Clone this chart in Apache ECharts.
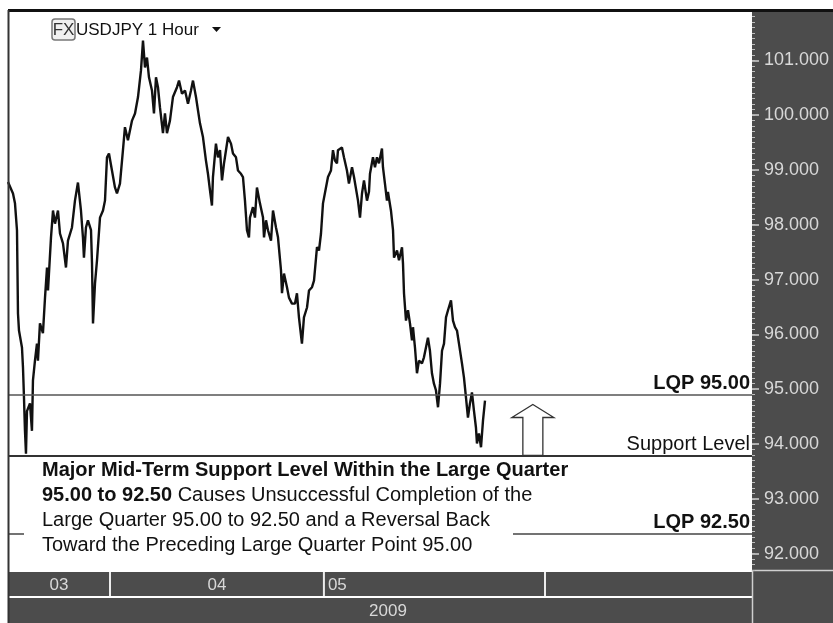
<!DOCTYPE html>
<html><head><meta charset="utf-8">
<script src="https://cdn.jsdelivr.net/npm/echarts@6/dist/echarts.min.js"></script>
<style>html,body{margin:0;padding:0;background:#fff}#c{width:833px;height:623px}</style>
</head><body><div id="c"></div>
<script>
// x: days since 1 Mar 2009 (1-hour bars)
const days = [16.70,17.40,17.68,17.96,18.10,18.24,18.66,18.80,18.94,19.08,19.22,19.36,19.78,20.06,20.20,20.48,20.76,20.90,21.18,21.60,21.89,22.17,22.31,22.73,23.01,23.29,23.71,23.99,24.41,24.83,25.11,25.67,26.09,26.51,26.93,27.21,27.35,27.63,27.91,28.34,28.48,28.62,28.90,29.18,29.60,30.02,30.30,30.58,30.86,31.28,31.70,31.98,32.40,
32.82,33.10,33.52,34.09,34.51,34.93,35.35,35.63,35.91,36.19,36.47,36.89,37.17,37.45,37.73,38.01,38.43,38.71,38.99,39.41,39.83,40.40,40.68,41.10,41.52,41.94,42.36,42.64,43.06,43.34,43.62,44.04,44.46,44.74,45.02,45.30,45.44,45.86,46.14,46.43,46.71,46.99,47.27,47.55,47.97,48.25,48.67,48.95,49.37,49.65,49.93,50.21,50.49,
50.63,51.05,51.33,51.61,52.03,52.46,52.60,52.88,53.16,53.58,53.86,54.28,54.56,54.98,55.12,55.40,55.82,56.10,56.52,56.94,57.22,57.50,57.92,58.20,58.63,58.91,59.33,59.61,60.03,60.31,60.59,60.87,61.29,61.57,61.99,62.27,62.55,62.83,62.97,63.53,63.81,64.23,64.51,64.94,65.22,65.50,65.78,66.06,66.34,66.62,67.04,67.32,
67.46,67.88,68.16,68.44,68.72,69.14,69.28,69.56,69.84,69.98,70.40,70.69,70.83,71.25,71.53,71.95,72.09,72.23,72.51,72.79,73.07,73.35,73.49,73.77,74.05,74.33,74.75,75.03,75.31,75.59,75.87,76.15,76.43,76.71,77.00,77.28,77.56,77.84,78.12,78.40,78.82,79.10,79.38,79.66,79.94,80.36,80.64,80.92,81.20,81.48,81.76,82.04,82.32,82.46,82.74,83.03,83.31,83.59];
const prices = [98.78,98.57,98.39,97.9,96.38,96.07,95.76,95.4,94.85,94.24,93.82,94.6,94.74,94.24,95.16,95.52,95.83,95.52,96.2,96.02,96.67,97.22,96.8,97.77,98.26,98.02,98.26,97.84,97.66,97.22,97.71,97.95,98.44,98.77,98.26,97.77,97.4,97.95,98.08,97.9,97.29,96.2,96.93,97.35,98.13,98.26,98.44,99.23,99.3,98.99,98.68,98.57,98.75,
99.36,99.78,99.54,99.9,100.03,100.33,100.82,101.36,100.87,101.05,100.69,100.45,100.03,100.69,100.51,100.14,99.67,100.03,99.67,99.9,100.33,100.51,100.63,100.39,100.45,100.21,100.45,100.63,100.33,100.09,99.85,99.6,99.17,98.93,98.63,98.35,98.87,99.48,99.23,99.36,98.81,99.12,99.36,99.6,99.48,99.3,99.23,98.99,98.93,98.87,98.44,97.9,97.77,
98.13,98.32,98.13,98.68,98.39,98.13,97.77,98.08,97.9,97.71,98.26,97.95,97.77,97.17,96.75,97.11,96.86,96.67,96.56,96.56,96.75,96.31,95.83,96.31,96.49,96.8,96.86,96.98,97.59,97.53,97.84,98.39,98.68,98.87,98.99,99.36,99.17,99.12,99.36,99.41,99.23,98.99,98.75,99.05,98.87,98.9,98.44,98.13,98.57,98.81,98.44,98.6,
98.93,99.23,99.05,99.23,99.12,99.39,99.05,98.75,98.44,98.6,98.26,97.9,97.4,97.53,97.35,97.59,97.29,96.75,96.25,96.44,96.2,95.89,96.13,95.76,95.29,95.52,95.47,95.58,95.76,95.94,95.7,95.29,95.1,94.98,94.67,95.1,95.7,95.83,96.31,96.44,96.62,96.25,96.13,96.07,95.83,95.47,95.21,94.85,94.48,94.74,94.94,94.61,94.3,94.01,94.19,93.94,94.43,94.79];

const yTicks = [92,93,94,95,96,97,98,99,100,101];
const levels = [94.9, 93.79, 92.37];
const levelLabels = ['LQP 95.00', 'Support Level', 'LQP 92.50'];
const monthStarts = [31, 61, 92];          // 1 Apr, 1 May, 1 Jun
const monthLabels = ['03', '04', '05', ''];
const yearLabel = '2009';
const xMin = 16.7, xMax = 121.03;
const yMin = 91.7, yMax = 101.9;
const arrowDay = 90.3, arrowTop = 94.72;
const noteBold1 = 'Major Mid-Term Support Level Within the Large Quarter';
const noteBold2 = '95.00 to 92.50';
const noteRest2 = ' Causes Unsuccessful Completion of the';
const noteLine3 = 'Large Quarter 95.00 to 92.50 and a Reversal Back';
const noteLine4 = 'Toward the Preceding Large Quarter Point 95.00';

const FONT = "'Liberation Sans', Arial, sans-serif";
const PANEL = '#4c4c4c';
const chart = echarts.init(document.getElementById('c'));

const levelStyles = [
  {color: '#555', width: 1.5, bold: true},
  {color: '#333', width: 2, bold: false},
  {color: '#444', width: 1.5, bold: true}
];

chart.setOption({
  backgroundColor: '#fff',
  animation: false,
  grid: {left: 8, right: 81, top: 11, bottom: 53},
  xAxis: {type: 'value', min: xMin, max: xMax, show: false},
  yAxis: [
    {type: 'value', position: 'right', min: yMin, max: yMax,
     axisLine: {show: false}, splitLine: {show: false},
     axisTick: {show: true, customValues: yTicks, length: 7, lineStyle: {color: '#d0d0d0', width: 1.5}},
     axisLabel: {customValues: yTicks, formatter: v => v.toFixed(3), color: '#d8d8d8', fontSize: 18, fontFamily: FONT, margin: 12}},
    {type: 'value', position: 'right', min: yMin, max: yMax, interval: 0.1,
     axisLine: {show: false}, splitLine: {show: false}, axisLabel: {show: false},
     axisTick: {show: true, length: 3, lineStyle: {color: '#bdbdbd', width: 1}}}
  ],
  series: [{
    type: 'line', data: days.map((d, i) => [d, prices[i]]),
    showSymbol: false, z: 3,
    lineStyle: {color: '#111', width: 2.4},
    markLine: {
      symbol: 'none', silent: true, animation: false,
      data: levels.map((v, i) => ({
        yAxis: v,
        lineStyle: {type: 'solid', color: levelStyles[i].color, width: levelStyles[i].width},
        label: {show: true, position: 'insideEndTop', formatter: levelLabels[i], distance: [2, 1],
                fontSize: 20, fontFamily: FONT, color: '#111',
                fontWeight: levelStyles[i].bold ? 'bold' : 'normal'}
      }))
    }
  }]
});

const P = (d, v) => chart.convertToPixel({xAxisIndex: 0, yAxisIndex: 0}, [d, v]);
const gx0 = P(xMin, yMin)[0], gx1 = P(xMax, yMin)[0], gyB = P(xMin, yMin)[1], gyT = P(xMin, yMax)[1];
const W = 833, H = 623;
const els = [];
// right scale panel
els.push({type: 'rect', z: -1, shape: {x: gx1, y: gyT - 1, width: W - gx1, height: H - gyT + 1}, style: {fill: PANEL}});
// time bars
const rowTop = gyB + 2, rowH = 24, yearTop = rowTop + rowH + 2;
els.push({type: 'rect', shape: {x: gx0, y: rowTop, width: gx1 - gx0, height: rowH}, style: {fill: PANEL}});
els.push({type: 'rect', shape: {x: gx0, y: yearTop, width: gx1 - gx0, height: H - yearTop}, style: {fill: PANEL}});
els.push({type: 'line', shape: {x1: gx1, y1: gyB + 0.5, x2: W, y2: gyB + 0.5}, style: {stroke: '#cfcfcf', lineWidth: 1.5}});
els.push({type: 'line', shape: {x1: gx1 + 0.5, y1: gyB, x2: gx1 + 0.5, y2: H}, style: {stroke: '#cfcfcf', lineWidth: 1.5}});
const bounds = [xMin].concat(monthStarts, [xMax]);
monthStarts.forEach(ms => {
  const x = P(ms, yMin)[0];
  els.push({type: 'line', shape: {x1: x, y1: rowTop, x2: x, y2: rowTop + rowH}, style: {stroke: '#ececec', lineWidth: 2}});
});
monthLabels.forEach((lab, i) => {
  if (!lab) return;
  const a = P(bounds[i], yMin)[0], b = P(bounds[i + 1], yMin)[0];
  const left = i === 2;
  els.push({type: 'text', style: {text: lab, x: left ? a + 4 : (a + b) / 2, y: rowTop + rowH / 2 + 1,
    align: left ? 'left' : 'center', verticalAlign: 'middle', fill: '#d8d8d8', font: '17px ' + FONT}});
});
els.push({type: 'text', style: {text: yearLabel, x: (gx0 + gx1) / 2 + 8, y: yearTop + (H - yearTop) / 2 + 1,
  align: 'center', verticalAlign: 'middle', fill: '#d8d8d8', font: '17px ' + FONT}});
// frame
els.push({type: 'line', z: 5, shape: {x1: gx0, y1: 10.5, x2: W, y2: 10.5}, style: {stroke: '#111', lineWidth: 3}});
els.push({type: 'line', z: 5, shape: {x1: gx0 + 0.5, y1: 10, x2: gx0 + 0.5, y2: H}, style: {stroke: '#333', lineWidth: 2}});
// title
els.push({type: 'rect', shape: {x: 52, y: 19, width: 23, height: 21, r: 3}, style: {fill: '#f0f0f0', stroke: '#777', lineWidth: 1.5}});
els.push({type: 'text', style: {text: 'FX', x: 63.5, y: 30, align: 'center', verticalAlign: 'middle', fill: '#333', font: '17px ' + FONT}});
els.push({type: 'text', style: {text: 'USDJPY 1 Hour', x: 76, y: 30, align: 'left', verticalAlign: 'middle', fill: '#111', font: '17px ' + FONT}});
els.push({type: 'polygon', shape: {points: [[212, 27], [221, 27], [216.5, 32]]}, style: {fill: '#111'}});
// arrow
const [ax, ayTop] = P(arrowDay, arrowTop);
const ayBase = P(arrowDay, levels[1])[1];
els.push({type: 'polygon', z: 6, shape: {points: [[ax, ayTop], [ax + 21, ayTop + 13], [ax + 10, ayTop + 13], [ax + 10, ayBase], [ax - 10, ayBase], [ax - 10, ayTop + 13], [ax - 21, ayTop + 13]]},
  style: {fill: '#fff', stroke: '#333', lineWidth: 1.3}});
// note box
els.push({type: 'rect', z: 10, shape: {x: 24, y: 460, width: 489, height: 106}, style: {fill: '#fff'}});
els.push({type: 'text', z: 11, style: {
  x: 42, y: 458, align: 'left', verticalAlign: 'top',
  text: '{b|' + noteBold1 + '}\n{b|' + noteBold2 + '}{n|' + noteRest2 + '}\n{n|' + noteLine3 + '}\n{n|' + noteLine4 + '}',
  rich: {
    b: {fontWeight: 'bold', fontSize: 20, fontFamily: FONT, fill: '#111', lineHeight: 25},
    n: {fontWeight: 'normal', fontSize: 20, fontFamily: FONT, fill: '#111', lineHeight: 25}
  }}});
chart.setOption({graphic: {elements: els}});
</script></body></html>
